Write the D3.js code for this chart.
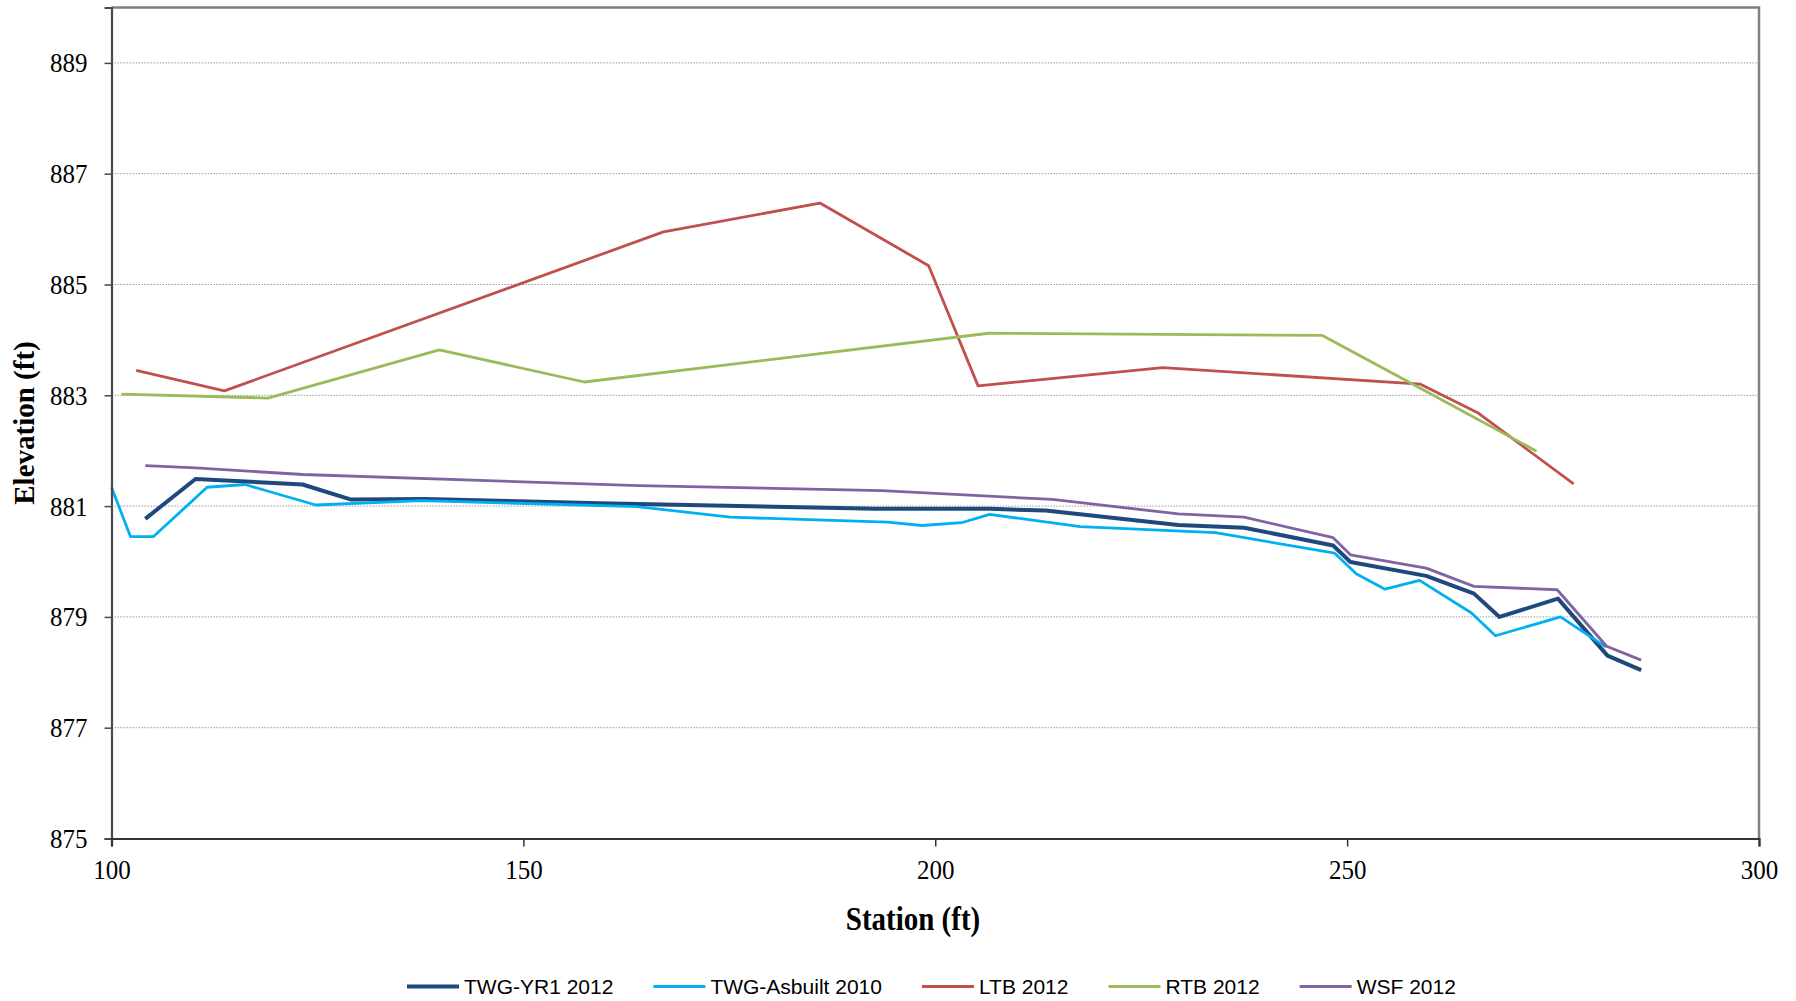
<!DOCTYPE html>
<html>
<head>
<meta charset="utf-8">
<script src="https://cdn.jsdelivr.net/npm/d3@7"></script>
<style>
  body { margin: 0; background: #fff; }
  svg { display: block; }
  .tick text { font-family: "Liberation Serif", "Times New Roman", serif; font-size: 25px; fill: #000; }
  .axis-title { font-family: "Liberation Serif", "Times New Roman", serif; font-size: 29px; font-weight: bold; fill: #000; }
  .legend text { font-family: "Liberation Sans", Arial, sans-serif; font-size: 21px; fill: #000; }
</style>
</head>
<body>
<div id="root"></div>
<script>
"use strict";

// station (ft) / elevation (ft)
var twgYr1Station = [104.1, 110.2, 123.2, 129.0, 138.0, 159.3, 192.8, 206.7, 213.4, 229.5, 237.5, 248.3, 250.4, 259.6, 265.4, 268.5, 275.6, 281.6, 285.7];
var twgYr1Elev    = [880.77, 881.49, 881.39, 881.12, 881.13, 881.05, 880.95, 880.95, 880.92, 880.66, 880.61, 880.29, 879.99, 879.74, 879.42, 879.00, 879.33, 878.30, 878.04];

var asbuiltStation = [100.0, 102.3, 105.1, 111.6, 116.2, 124.8, 137.6, 163.8, 175.1, 194.2, 198.4, 203.2, 206.6, 217.6, 234.0, 248.5, 251.1, 254.6, 258.8, 265.1, 268.0, 275.9, 281.4];
var asbuiltElev    = [881.34, 880.45, 880.45, 881.34, 881.39, 881.02, 881.10, 880.99, 880.80, 880.71, 880.65, 880.70, 880.85, 880.63, 880.52, 880.15, 879.78, 879.50, 879.66, 879.07, 878.66, 879.00, 878.46];

var ltbStation = [103.0, 113.7, 167.0, 186.0, 199.2, 205.2, 227.6, 258.9, 265.8, 277.5];
var ltbElev    = [883.45, 883.08, 885.95, 886.47, 885.34, 883.17, 883.50, 883.20, 882.69, 881.40];

var rtbStation = [101.2, 119.0, 139.8, 157.4, 206.5, 247.0, 259.0, 273.0];
var rtbElev    = [883.02, 882.95, 883.82, 883.24, 884.12, 884.08, 883.12, 881.99];

var wsfStation = [104.1, 110.2, 123.2, 164.0, 193.5, 214.2, 229.5, 237.5, 248.3, 250.4, 259.6, 265.4, 275.5, 281.5, 285.7];
var wsfElev    = [881.73, 881.69, 881.57, 881.37, 881.28, 881.12, 880.86, 880.80, 880.43, 880.12, 879.88, 879.55, 879.49, 878.47, 878.22];

var seriesNames = ["TWG-YR1 2012", "TWG-Asbuilt 2010", "LTB 2012", "RTB 2012", "WSF 2012"];
var xTicks = [100, 150, 200, 250, 300];
var yTicks = [875, 877, 879, 881, 883, 885, 887, 889];

var series = [
    { name: seriesNames[0], xs: twgYr1Station, ys: twgYr1Elev, color: "#1F497D", width: 4 },
    { name: seriesNames[1], xs: asbuiltStation, ys: asbuiltElev, color: "#00B0F0", width: 2.8 },
    { name: seriesNames[2], xs: ltbStation, ys: ltbElev, color: "#C0504D", width: 2.8 },
    { name: seriesNames[3], xs: rtbStation, ys: rtbElev, color: "#9BBB59", width: 2.8 },
    { name: seriesNames[4], xs: wsfStation, ys: wsfElev, color: "#8064A2", width: 2.8 }
];

var width = 1796,
    height = 1001,
    plot = { left: 111.5, right: 1759, top: 7.5, bottom: 838.5 },
    stretch = 1.13; // the source picture is a little taller than wide in its text

var svg = d3.select("#root").append("svg")
    .attr("width", width)
    .attr("height", height);

var x = d3.scaleLinear().domain([100, 300]).range([plot.left, plot.right]);
var y = d3.scaleLinear().domain([875, 890]).range([plot.bottom, plot.top]);

// dotted gridlines
svg.append("g").selectAll("line")
    .data(yTicks.filter(function (d) { return d !== 875; }))
    .enter().append("line")
    .attr("x1", plot.left).attr("x2", plot.right)
    .attr("y1", function (d) { return y(d); })
    .attr("y2", function (d) { return y(d); })
    .attr("stroke", "#9a9a9a")
    .attr("stroke-width", 1)
    .attr("stroke-dasharray", "1.5,1.5");

// top and right border of plot area
svg.append("path")
    .attr("d", "M" + plot.left + "," + plot.top + "H" + plot.right + "V" + plot.bottom)
    .attr("fill", "none")
    .attr("stroke", "#808080")
    .attr("stroke-width", 2.5);

var line = d3.line()
    .x(function (d) { return x(d[0]); })
    .y(function (d) { return y(d[1]); });

svg.append("g").selectAll("path")
    .data(series)
    .enter().append("path")
    .attr("d", function (s) { return line(d3.zip(s.xs, s.ys)); })
    .attr("fill", "none")
    .attr("stroke", function (s) { return s.color; })
    .attr("stroke-width", function (s) { return s.width; })
    .attr("stroke-linejoin", "round");

// axes
var yAxis = svg.append("g")
    .attr("transform", "translate(" + plot.left + ",0)")
    .call(d3.axisLeft(y).tickValues(yTicks).tickFormat(d3.format("d")).tickSize(7).tickPadding(17));
yAxis.select(".domain").attr("stroke", "#4a4a4a").attr("stroke-width", 2.2);
yAxis.selectAll(".tick line").attr("stroke", "#4a4a4a").attr("stroke-width", 1.5);
yAxis.selectAll(".tick text").attr("transform", "scale(1," + stretch + ")");

var xAxis = svg.append("g")
    .attr("transform", "translate(0," + plot.bottom + ")")
    .call(d3.axisBottom(x).tickValues(xTicks).tickFormat(d3.format("d")).tickSize(8).tickPadding(10.4));
xAxis.select(".domain").attr("stroke", "#333").attr("stroke-width", 2.2);
xAxis.selectAll(".tick line").attr("stroke", "#333").attr("stroke-width", 1.5);
xAxis.selectAll(".tick text").attr("transform", "scale(1," + stretch + ")");

// axis titles
svg.append("text")
    .attr("class", "axis-title")
    .attr("transform", "translate(913,930) scale(1," + stretch + ")")
    .attr("text-anchor", "middle")
    .text("Station (ft)");

svg.append("text")
    .attr("class", "axis-title")
    .attr("transform", "translate(34," + (plot.top + plot.bottom) / 2 + ") rotate(-90)")
    .attr("text-anchor", "middle")
    .text("Elevation (ft)");

// legend
var legend = svg.append("g").attr("class", "legend");
var lx = 407, ly = 986.5;
series.forEach(function (s) {
    legend.append("line")
        .attr("x1", lx).attr("x2", lx + 52)
        .attr("y1", ly).attr("y2", ly)
        .attr("stroke", s.color)
        .attr("stroke-width", s.width);
    var t = legend.append("text")
        .attr("x", lx + 57).attr("y", ly + 7.5)
        .text(s.name);
    lx += 57 + t.node().getComputedTextLength() + 40;
});
</script>
</body>
</html>
